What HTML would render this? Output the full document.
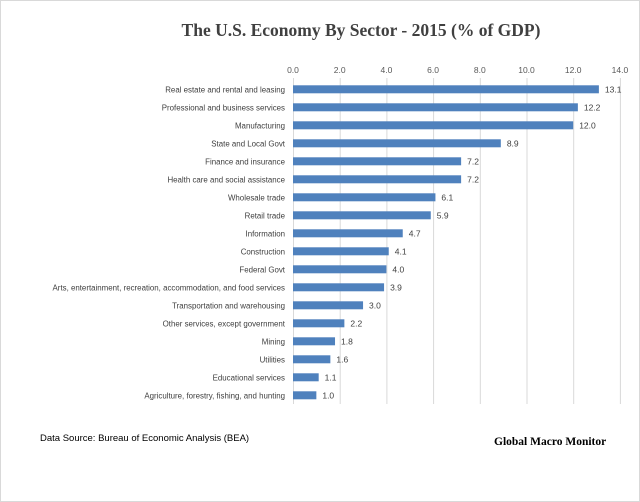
<!DOCTYPE html>
<html><head><meta charset="utf-8"><style>
body{margin:0;background:#fff}
#c{position:relative;width:638px;height:500px;border:1px solid #d9d9d9;overflow:hidden;font-family:"Liberation Sans",sans-serif}
</style></head><body><div id="c">
<svg width="640" height="502" style="position:absolute;left:-1px;top:-1px" font-family="Liberation Sans, sans-serif">
<text x="361" y="36" text-anchor="middle" font-family="Liberation Serif, serif" font-weight="bold" font-size="17.5" fill="#404040">The U.S. Economy By Sector - 2015  (% of GDP)</text>
<g id="grid" stroke="#d9d9d9" stroke-width="1"></g>
<g id="ticks" font-size="8.5" fill="#595959" text-anchor="middle"></g>
<g id="bars"></g>
<text x="40" y="441" font-size="9.5" fill="#000">Data Source: Bureau of Economic Analysis (BEA)</text>
<text x="494" y="445" font-family="Liberation Serif, serif" font-weight="bold" font-size="11.5" fill="#000">Global Macro Monitor</text>
</svg>
<script>
var d=[["Real estate and rental and leasing",13.1],["Professional and business services",12.2],["Manufacturing",12.0],["State and Local Govt",8.9],["Finance and insurance",7.2],["Health care and social assistance",7.2],["Wholesale trade",6.1],["Retail trade",5.9],["Information",4.7],["Construction",4.1],["Federal Govt",4.0],["Arts, entertainment, recreation, accommodation, and food services",3.9],["Transportation and warehousing",3.0],["Other services, except government",2.2],["Mining",1.8],["Utilities",1.6],["Educational services",1.1],["Agriculture, forestry, fishing, and hunting",1.0]];
var ns="http://www.w3.org/2000/svg",x0=293,s=23.35;
function el(n,a,p,t){var e=document.createElementNS(ns,n);for(var k in a)e.setAttribute(k,a[k]);if(t)e.textContent=t;p.appendChild(e);return e}
var g=document.getElementById("grid"),tk=document.getElementById("ticks"),b=document.getElementById("bars");
for(var i=0;i<=7;i++){var x=x0+i*2*s;el("line",{x1:x+.5,x2:x+.5,y1:78,y2:404},g);el("text",{x:x,y:73},tk,(i*2).toFixed(1));}
d.forEach(function(r,i){var y=89.3+i*18;
el("text",{x:285,y:y+3,"font-size":"7.9",fill:"#404040","text-anchor":"end"},b,r[0]);
el("rect",{x:x0,y:y-4,width:r[1]*s,height:8,fill:"#4f81bd"},b);
el("text",{x:x0+r[1]*s+6,y:y+3,"font-size":"8.5",fill:"#404040"},b,r[1].toFixed(1));});
</script>
</div></body></html>
